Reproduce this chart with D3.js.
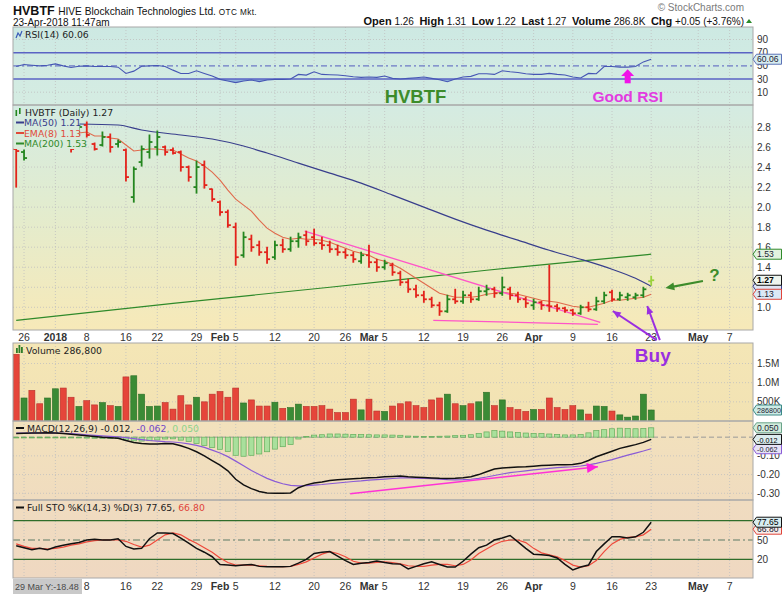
<!DOCTYPE html>
<html><head><meta charset="utf-8">
<script src="https://cdn.jsdelivr.net/npm/d3@7/dist/d3.min.js"></script>
<style>html,body{margin:0;padding:0;background:#fff;}svg{display:block;}</style>
</head><body>
<svg id="chart" width="782" height="594"></svg>
<script>
// ================= DATA =================
const tickDays = [1,5,9,14,18,23,26,28,33,38,42,45,47,52,57,62,66,71,76,81,87,91];
const tickText = ["26","2018","8","16","22","29","Feb","5","12","20","26","Mar","5","12","19","26","Apr","9","16","23","May","7"];

const priceOpen = [2.58,2.55,2.66,2.72,2.64,2.72,2.80,2.68,2.77,2.82,2.63,2.62,2.70,2.63,2.57,2.10,2.45,2.55,2.60,2.60,2.57,2.55,2.40,2.20,2.42,2.18,2.05,
1.95,1.80,1.52,1.68,1.62,1.55,1.50,1.62,1.58,1.66,1.72,1.70,1.64,1.62,1.58,1.55,1.52,1.46,1.52,1.45,1.40,1.42,1.34,1.25,1.18,1.12,1.08,1.02,0.96,1.08,1.06,1.12,1.08,1.16,1.18,1.14,1.18,1.12,1.08,1.02,1.05,1.02,1.01,0.99,0.97,0.94,1.00,0.98,1.06,1.15,1.08,1.10,1.10,1.12,1.26];
const priceHigh = [2.59,2.57,2.74,2.78,2.76,2.84,2.82,2.74,2.82,2.85,2.64,2.75,2.73,2.67,2.58,2.40,2.61,2.72,2.76,2.61,2.59,2.56,2.41,2.46,2.46,2.18,2.06,
1.97,1.84,1.75,1.72,1.66,1.60,1.66,1.68,1.70,1.74,1.76,1.78,1.70,1.66,1.62,1.58,1.55,1.55,1.62,1.48,1.47,1.44,1.36,1.28,1.22,1.16,1.10,1.05,1.12,1.18,1.16,1.15,1.20,1.22,1.20,1.30,1.20,1.15,1.10,1.08,1.06,1.42,1.03,1.00,0.98,1.02,1.05,1.10,1.15,1.17,1.15,1.14,1.14,1.20,1.31];
const priceLow = [2.20,2.47,2.62,2.59,2.62,2.66,2.64,2.55,2.72,2.70,2.57,2.61,2.55,2.60,2.26,2.05,2.41,2.49,2.52,2.52,2.53,2.36,2.26,2.14,2.19,2.06,1.92,
1.80,1.42,1.50,1.56,1.52,1.44,1.48,1.55,1.56,1.60,1.62,1.62,1.58,1.55,1.52,1.49,1.45,1.44,1.40,1.36,1.38,1.32,1.22,1.15,1.10,1.05,1.00,0.92,0.95,1.04,1.04,1.05,1.07,1.12,1.10,1.12,1.08,1.05,1.00,0.98,0.98,0.96,0.96,0.95,0.92,0.93,0.96,0.97,1.04,1.06,1.07,1.07,1.08,1.10,1.22];
const priceClose = [2.56,2.49,2.70,2.62,2.72,2.80,2.68,2.58,2.80,2.72,2.58,2.70,2.60,2.65,2.30,2.38,2.58,2.65,2.70,2.55,2.54,2.40,2.30,2.40,2.22,2.08,1.95,
1.82,1.50,1.70,1.60,1.55,1.48,1.62,1.58,1.66,1.70,1.66,1.64,1.62,1.58,1.55,1.52,1.48,1.52,1.45,1.40,1.44,1.35,1.25,1.18,1.12,1.08,1.02,0.96,1.08,1.06,1.12,1.08,1.16,1.18,1.14,1.20,1.12,1.08,1.04,1.05,1.02,1.01,0.99,0.97,0.94,1.00,0.98,1.06,1.12,1.08,1.12,1.12,1.12,1.18,1.27];
const upDay = [0,1,0,0,1,1,0,0,1,0, 0,1,0,1,0,1,1,1,1,0, 0,0,0,1,0,0,0,0,0,1, 0,0,0,1,0,1,1,0,0,0,
0,0,0,0,1,0,0,1,0,0, 0,0,0,0,0,1,0,1,0,1, 1,0,1,0,0,0,1,0,0,0, 0,0,1,0,1,1,0,1,1,1, 1,1];

const ema8 = [2.66,2.63,2.65,2.66,2.68,2.72,2.72,2.70,2.74,2.75,
2.71,2.71,2.69,2.68,2.62,2.56,2.57,2.58,2.58,2.57,
2.57,2.53,2.49,2.46,2.41,2.35,2.27,2.17,2.08,2.02,
1.96,1.87,1.79,1.74,1.70,1.68,1.69,1.68,1.68,1.67,
1.65,1.62,1.59,1.56,1.54,1.52,1.48,1.46,1.43,1.39,
1.34,1.29,1.24,1.19,1.14,1.12,1.10,1.10,1.10,1.11,
1.13,1.14,1.15,1.14,1.13,1.11,1.09,1.07,1.06,1.05,
1.03,1.01,1.00,1.00,1.02,1.04,1.07,1.07,1.08,1.09,
1.10,1.13];
const ma50Pts = [[8,2.83],[13,2.82],[16,2.77],[21,2.72],[25,2.68],[29,2.61],[32,2.54],[36,2.44],[40,2.34],[44,2.24],[48,2.12],[52,2.00],[56,1.88],[60,1.77],[64,1.67],[68,1.57],[72,1.48],[76,1.38],[79,1.29],[81,1.21]];
const ma200Pts = [[0,0.87],[20,1.04],[40,1.20],[60,1.37],[81,1.53]];

const volume = [1.74,0.60,0.80,0.45,0.60,0.84,0.86,0.62,0.38,0.53,
0.42,0.48,0.40,0.38,1.15,1.18,0.70,0.38,0.39,0.48,
0.31,0.66,0.42,0.62,0.50,0.70,0.77,0.62,0.86,0.47,
0.55,0.39,0.39,0.49,0.33,0.35,0.44,0.38,0.38,0.40,
0.31,0.22,0.22,0.57,0.29,0.57,0.26,0.25,0.39,0.45,
0.50,0.40,0.35,0.55,0.60,0.70,0.45,0.40,0.45,0.50,
0.75,0.40,0.55,0.35,0.30,0.25,0.30,0.30,0.60,0.35,
0.30,0.40,0.29,0.18,0.39,0.38,0.26,0.16,0.10,0.13,
0.70,0.2868];

const rsi = [49,52,51,50,51,53,50,47.5,49.5,50,
49,49,49,48,38.5,42,49.5,50,50.5,49,
43.5,38.5,38.5,42.5,38.5,34.5,29.5,27,24.5,27,
28.5,26,28.5,29.5,29.5,30,37,36,41,37,
36.5,36,35,33.5,32.5,33,32.5,34.5,31,30,
31,32,33,31,29,26,30,33,34,38,
38,37,42.5,41,40,38,37,37,38.5,37,
36,33,31.5,38.5,38,49,49,48,48,49,
56,60.06];

const macd = [0.020,0.021,0.022,0.022,0.023,0.022,0.020,0.016,0.012,0.008,
0.004,0.000,-0.003,-0.006,-0.018,-0.028,-0.034,-0.037,-0.036,-0.034,
-0.035,-0.046,-0.060,-0.078,-0.100,-0.125,-0.150,-0.180,-0.225,-0.255,
-0.275,-0.290,-0.298,-0.300,-0.300,-0.298,-0.270,-0.255,-0.245,-0.240,
-0.232,-0.228,-0.225,-0.222,-0.220,-0.217,-0.215,-0.212,-0.210,-0.208,
-0.212,-0.214,-0.216,-0.218,-0.220,-0.221,-0.220,-0.217,-0.212,-0.200,
-0.185,-0.170,-0.165,-0.162,-0.160,-0.158,-0.155,-0.152,-0.150,-0.148,
-0.148,-0.146,-0.140,-0.125,-0.105,-0.090,-0.075,-0.060,-0.050,-0.040,
-0.028,-0.012];
const macdSignal = [0.022,0.022,0.022,0.023,0.023,0.022,0.021,0.019,0.016,0.013,
0.010,0.007,0.004,0.001,-0.003,-0.008,-0.013,-0.018,-0.021,-0.024,
-0.026,-0.030,-0.036,-0.044,-0.055,-0.069,-0.085,-0.104,-0.128,-0.153,
-0.178,-0.200,-0.220,-0.236,-0.249,-0.258,-0.260,-0.259,-0.256,-0.253,
-0.249,-0.245,-0.241,-0.237,-0.234,-0.230,-0.227,-0.224,-0.221,-0.218,
-0.218,-0.219,-0.220,-0.222,-0.225,-0.227,-0.228,-0.227,-0.225,-0.220,
-0.213,-0.205,-0.197,-0.190,-0.185,-0.180,-0.175,-0.171,-0.167,-0.163,
-0.160,-0.158,-0.154,-0.148,-0.140,-0.130,-0.120,-0.108,-0.096,-0.085,
-0.074,-0.062];
const macdHist = [-0.002,-0.001,0.000,-0.001,0.000,0.000,-0.001,-0.003,-0.004,-0.005,
-0.006,-0.007,-0.007,-0.007,-0.015,-0.020,-0.021,-0.019,-0.015,-0.010,
-0.009,-0.016,-0.024,-0.034,-0.045,-0.056,-0.065,-0.076,-0.097,-0.102,
-0.097,-0.090,-0.078,-0.064,-0.051,-0.040,-0.010,0.004,0.011,0.013,
0.017,0.017,0.016,0.015,0.014,0.013,0.012,0.012,0.011,0.010,
0.006,0.005,0.004,0.004,0.005,0.006,0.008,0.010,0.013,0.020,
0.028,0.035,0.032,0.028,0.025,0.022,0.020,0.019,0.017,0.015,
0.012,0.012,0.014,0.023,0.035,0.040,0.045,0.048,0.046,0.045,
0.046,0.050];

const stoK = [41,38,35,37,35,39,42,44,46,50,
51,50,50,52,40,36,37,52,61,61,
60,53,45,37,31,24,12,11,10,11,
12,9,8.5,8.5,8.5,9,14,20,29,31,
32,25,18,12,14,15,17.5,15,13,12.5,
5,9,13,16,12,8,8,17,28,38,
42,50,53,57,47,37,28,27,26,22,
12,3.5,8,11,32,44,55,55,53,55,
62,77.65];
const stoD = [44,40,37,37,36,37,39,42,44,47,
49,50,50,50,48,43,39,42,50,58,
61,58,51,45,38,31,22,15,11,11,
11,10,9,8.5,8.5,9,12,16,22,28,
32,29,24,17,14,14,15,16,15,13,
10,9,9,11,12,12,10,12,19,29,
36,43,48,50,50,46,37,30,27,24,
18,11,8,10,18,32,44,51,54,55,
58,66.8];

const priceTicks = [1.0,1.2,1.4,1.6,1.8,2.0,2.2,2.4,2.6,2.8];
const priceTickShown = [1.0,1.4,1.6,1.8,2.0,2.2,2.4,2.6,2.8];
const rsiTicks = [10,30,50,70,90];
const volTicks = [0.5,1.0,1.5];
const volTickText = ["500K","1.0M","1.5M"];
const macdTicks = [-0.1,-0.2,-0.3];
const macdTickText = ["-0.10","-0.20","-0.30"];
const stoTicks = [20,50];

// annotations in data space [dayIndex, value]
const pinkTrend = [[[36.8,1.76],[74.5,0.85]],[[53.2,0.87],[74.2,0.83]]];
const macdArrow = [[42.6,-0.302],[74.2,-0.158]];
const rsiArrow = {day:78.0, base:23.5, neck:34.6, tip:44.8};
const greenArrow = [[87.6,1.263],[82.8,1.193]];
const buyArrows = [[[81.7,0.673],[76.1,0.963]],[[82.1,0.673],[80.5,1.013]]];

// ================= DRAW =================
const svg = d3.select('#chart');
const L = 13, R = 753;
const SANS = "'Liberation Sans', Arial, sans-serif";
const LEG = "'DejaVu Sans', Verdana, sans-serif";
const x = d3.scaleLinear().domain([0,81]).range([16.2,651.2]);
const P = {rsi:[27,105], price:[105,330], vol:[343,421], macd:[421,500], sto:[500,578]};

const rsiY = d3.scaleLinear().domain([10,90]).range([92.2,39.5]);
const priceY = d3.scaleLinear().domain([1.0,2.8]).range([307.3,127]);
const volY = d3.scaleLinear().domain([0,1.5]).range([421,363.5]);
const macdY = d3.scaleLinear().domain([-0.3,0.05]).range([493.3,427.8]);
const stoY = d3.scaleLinear().domain([20,80]).range([559.3,520.7]);

const RED = "#e3231b", GREEN = "#24861f", LAST = "#9bd23c";

const defs = svg.append('defs');
function grad(id, y1, y2, stops){
  const g = defs.append('linearGradient').attr('id',id).attr('gradientUnits','userSpaceOnUse')
    .attr('x1',0).attr('x2',0).attr('y1',y1).attr('y2',y2);
  stops.forEach(s=>g.append('stop').attr('offset',s[0]).attr('stop-color',s[1]));
}
grad('gRsi',P.rsi[0],P.rsi[1],[[0,'#cde9e3'],[1,'#d5ece2']]);
grad('gPrice',P.price[0],P.price[1],[[0,'#d4ebe2'],[0.45,'#e2eccf'],[1,'#f7e9b8']]);
grad('gVol',P.vol[0],P.vol[1],[[0,'#f4e6b6'],[1,'#f2e2b3']]);
grad('gMacd',P.macd[0],P.macd[1],[[0,'#f2e1bc'],[1,'#f0dcbf']]);
grad('gSto',P.sto[0],P.sto[1],[[0,'#f0dcc0'],[1,'#efd8c1']]);
const gradOf = {rsi:'gRsi',price:'gPrice',vol:'gVol',macd:'gMacd',sto:'gSto'};
Object.keys(P).forEach(k=>{
  defs.append('clipPath').attr('id','clip-'+k).append('rect')
    .attr('x',L).attr('y',P[k][0]).attr('width',R-L).attr('height',P[k][1]-P[k][0]);
});

svg.append('rect').attr('width',782).attr('height',594).attr('fill','#fff');

Object.keys(P).forEach(k=>{
  svg.append('rect').attr('x',L).attr('y',P[k][0]).attr('width',R-L).attr('height',P[k][1]-P[k][0])
    .attr('fill',`url(#${gradOf[k]})`);
});

Object.keys(P).forEach(k=>{
  svg.append('g').selectAll('line').data(tickDays).join('line')
    .attr('x1',d=>x(d)).attr('x2',d=>x(d)).attr('y1',P[k][0]).attr('y2',P[k][1])
    .attr('stroke','#bfbfbf').attr('stroke-width',0.8).attr('stroke-dasharray','1,2');
});
function hgrid(ticks, scale){
  svg.append('g').selectAll('line').data(ticks).join('line')
    .attr('x1',L).attr('x2',R).attr('y1',d=>scale(d)).attr('y2',d=>scale(d))
    .attr('stroke','#bfbfbf').attr('stroke-width',0.8).attr('stroke-dasharray','1,2');
}
hgrid(priceTicks, priceY);
hgrid([0.5,1.0,1.5], volY);
hgrid([-0.1,-0.2,-0.3], macdY);
hgrid([10,90], rsiY);

// ---------- RSI panel ----------
const gR = svg.append('g').attr('clip-path','url(#clip-rsi)');
gR.append('path').datum(rsi)
  .attr('d', d3.area().x((d,i)=>x(i)).y0(rsiY(30)).y1(d=>rsiY(Math.min(d,30))))
  .attr('fill','#7ea6d8').attr('opacity',0.8);
[70,30].forEach(v=>gR.append('line').attr('x1',L).attr('x2',R).attr('y1',rsiY(v)).attr('y2',rsiY(v))
  .attr('stroke','#5a63c4').attr('stroke-width',1.4));
gR.append('line').attr('x1',L).attr('x2',R).attr('y1',rsiY(50)).attr('y2',rsiY(50))
  .attr('stroke','#6d79c6').attr('stroke-width',1.2).attr('stroke-dasharray','6,3,2,3');
gR.append('path').datum(rsi).attr('d', d3.line().x((d,i)=>x(i)).y(d=>rsiY(d)))
  .attr('fill','none').attr('stroke','#4656b4').attr('stroke-width',1.1);

// ---------- Price panel ----------
const gP = svg.append('g').attr('clip-path','url(#clip-price)');
gP.append('path').datum(ma200Pts).attr('d', d3.line().x(d=>x(d[0])).y(d=>priceY(d[1])).curve(d3.curveMonotoneX))
  .attr('fill','none').attr('stroke','#2f8a2a').attr('stroke-width',1.2);
gP.append('path').datum(ma50Pts).attr('d', d3.line().x(d=>x(d[0])).y(d=>priceY(d[1])).curve(d3.curveMonotoneX))
  .attr('fill','none').attr('stroke','#383e8c').attr('stroke-width',1.2);
gP.append('path').datum(ema8).attr('d', d3.line().x((d,i)=>x(i)).y(d=>priceY(d)))
  .attr('fill','none').attr('stroke','#e06a4c').attr('stroke-width',1.1);
pinkTrend.forEach(seg=>{
  gP.append('line').attr('x1',x(seg[0][0])).attr('y1',priceY(seg[0][1])).attr('x2',x(seg[1][0])).attr('y2',priceY(seg[1][1]))
    .attr('stroke','#ff55c8').attr('stroke-width',1.3);
});
const barColor = i => i===81 ? LAST : (upDay[i] ? GREEN : RED);
const bars = gP.append('g').selectAll('g').data(priceClose).join('g').attr('stroke',(d,i)=>barColor(i)).attr('stroke-width',1.8);
bars.append('line').attr('x1',(d,i)=>x(i)).attr('x2',(d,i)=>x(i))
  .attr('y1',(d,i)=>priceY(priceHigh[i])-0.5).attr('y2',(d,i)=>priceY(priceLow[i])+0.5);
bars.append('line').attr('x1',(d,i)=>x(i)-3).attr('x2',(d,i)=>x(i))
  .attr('y1',(d,i)=>priceY(priceOpen[i])).attr('y2',(d,i)=>priceY(priceOpen[i]));
bars.append('line').attr('x1',(d,i)=>x(i)).attr('x2',(d,i)=>x(i)+3)
  .attr('y1',d=>priceY(d)).attr('y2',d=>priceY(d));

// ---------- Volume ----------
const gV = svg.append('g').attr('clip-path','url(#clip-vol)');
gV.selectAll('rect').data(volume).join('rect')
  .attr('x',(d,i)=>x(i)-3).attr('width',6)
  .attr('y',d=>volY(d)).attr('height',d=>volY(0)-volY(d))
  .attr('fill',(d,i)=> (upDay[i]? '#3b8b35':'#e5453a'))
  .attr('stroke',(d,i)=> (upDay[i]? '#2a6e26':'#b8302a')).attr('stroke-width',0.6);

// ---------- MACD ----------
const gM = svg.append('g').attr('clip-path','url(#clip-macd)');
gM.append('line').attr('x1',L).attr('x2',R).attr('y1',macdY(0)).attr('y2',macdY(0))
  .attr('stroke','#9a9a9a').attr('stroke-width',1).attr('stroke-dasharray','5,3');
gM.selectAll('rect').data(macdHist).join('rect')
  .attr('x',(d,i)=>x(i)-2.6).attr('width',5.2)
  .attr('y',d=>Math.min(macdY(d),macdY(0))).attr('height',d=>Math.max(0.8,Math.abs(macdY(d)-macdY(0))))
  .attr('fill','#a9e09c').attr('stroke','#64ad5c').attr('stroke-width',0.7);
gM.append('path').datum(macdSignal).attr('d', d3.line().x((d,i)=>x(i)).y(d=>macdY(d)))
  .attr('fill','none').attr('stroke','#8a5bd6').attr('stroke-width',1.2);
gM.append('path').datum(macd).attr('d', d3.line().x((d,i)=>x(i)).y(d=>macdY(d)))
  .attr('fill','none').attr('stroke','#111').attr('stroke-width',1.5);

// ---------- STO ----------
const gS = svg.append('g').attr('clip-path','url(#clip-sto)');
[80,20].forEach(v=>gS.append('line').attr('x1',L).attr('x2',R).attr('y1',stoY(v)).attr('y2',stoY(v))
  .attr('stroke','#2f6d2a').attr('stroke-width',1.2));
gS.append('line').attr('x1',L).attr('x2',R).attr('y1',stoY(50)).attr('y2',stoY(50))
  .attr('stroke','#8d9a84').attr('stroke-width',1.4).attr('stroke-dasharray','7,3,2,3');
gS.append('path').datum(stoD).attr('d', d3.line().x((d,i)=>x(i)).y(d=>stoY(d)))
  .attr('fill','none').attr('stroke','#ee4a3c').attr('stroke-width',1.2);
gS.append('path').datum(stoK).attr('d', d3.line().x((d,i)=>x(i)).y(d=>stoY(d)))
  .attr('fill','none').attr('stroke','#111').attr('stroke-width',1.5);

Object.keys(P).forEach(k=>{
  svg.append('rect').attr('x',L).attr('y',P[k][0]).attr('width',R-L).attr('height',P[k][1]-P[k][0])
    .attr('fill','none').attr('stroke','#a8a8a8').attr('stroke-width',1);
});

// ---------- date axes ----------
function dateAxis(yBase, minX){
  const idx = tickDays.map((d,i)=>i).filter(i=>x(tickDays[i])>minX);
  svg.append('g').selectAll('text').data(idx).join('text')
    .attr('x',i=>x(tickDays[i])).attr('y',yBase).attr('text-anchor','middle')
    .attr('font-family',SANS).attr('font-size',10.5)
    .attr('font-weight',i=>/^\d{1,2}$/.test(tickText[i])?'normal':'bold')
    .attr('fill','#333').text(i=>tickText[i]);
}
dateAxis(340.5, 0);
dateAxis(589.5, 80);
svg.append('rect').attr('x',L).attr('y',579).attr('width',69).attr('height',15).attr('fill','#c9c9c9');
svg.append('text').attr('x',L+2).attr('y',590).attr('font-family',SANS).attr('font-size',9).attr('fill','#4a4a4a').text('29 Mar Y:-18.48');

// ---------- right axis labels ----------
function rAxis(ticks, scale, fmt){
  svg.append('g').selectAll('text').data(ticks).join('text')
    .attr('x',757).attr('y',d=>scale(d)+3.5).attr('font-family',SANS).attr('font-size',10)
    .attr('fill','#333').text((d,i)=>fmt(d,i));
}
rAxis(rsiTicks, rsiY, d=>d);
rAxis(priceTickShown, priceY, d=>d.toFixed(1));
rAxis(volTicks, volY, (d,i)=>volTickText[i]);
rAxis(macdTicks, macdY, (d,i)=>macdTickText[i]);
rAxis(stoTicks, stoY, d=>d);

function tag(y, text, stroke, fill, color, bold){
  const g = svg.append('g');
  g.append('path').attr('d',`M${R},${y} L${R+3.5},${y-5} L${781.5},${y-5} L${781.5},${y+5} L${R+3.5},${y+5} Z`)
    .attr('fill',fill).attr('stroke',stroke).attr('stroke-width',1);
  if(text){
    g.append('text').attr('x',R+4).attr('y',y+3.1).attr('font-family',SANS)
      .attr('font-size', text.length>5 ? 7.2 : 8.6)
      .attr('font-weight',bold?'bold':'normal').attr('fill',color).text(text);
  }
}
tag(rsiY(60.06),'60.06','#5d73b8','#d8edf0','#223',false);
tag(priceY(1.53),'1.53','#2f8a2a','#e2f2e0','#223',false);
tag(priceY(1.21),'','#383e8c','#dfe6f5','#223',false);
tag(priceY(1.13),'1.13','#e0443a','#dbe8f6','#223',false);
tag(priceY(1.27),'1.27','#111','#eef5ee','#000',true);
tag(volY(0.2868),'286800','#3e8a86','#cdebe6','#223',false);
tag(macdY(0.05),'0.050','#6aa38a','#d2ecdc','#223',false);
tag(macdY(-0.062),'-0.062','#8a5bd6','#e6e2f5','#223',false);
tag(macdY(-0.012),'-0.012','#111','#dcecef','#000',false);
tag(stoY(66.8),'66.80','#e0443a','#f7ecea','#223',false);
tag(stoY(77.65),'77.65','#111','#d8edf0','#000',false);

// ---------- legends ----------
function legendBox(xr, y0, y1, k){
  svg.append('rect').attr('x',L+0.5).attr('y',y0).attr('width',xr-L).attr('height',y1-y0).attr('fill',`url(#${gradOf[k]})`);
}
function legText(xp, yb, parts){
  const t = svg.append('text').attr('x',xp).attr('y',yb).attr('font-family',LEG).attr('font-size',9.3);
  parts.forEach(p=>t.append('tspan').attr('fill',p[1]).text(p[0]));
}
svg.append('path').attr('d','M16,38 L18,33 L20,36 L22,31').attr('fill','none').attr('stroke','#3a5ab8').attr('stroke-width',1.2);
legText(25,37.5,[['RSI(14) 60.06','#222']]);
legendBox(126,106,118,'price');
legendBox(79,118,149,'price');
svg.append('rect').attr('x',15.5).attr('y',110).attr('width',1.6).attr('height',6).attr('fill',GREEN);
svg.append('rect').attr('x',19).attr('y',108).attr('width',1.6).attr('height',6).attr('fill',GREEN);
legText(25,115.5,[['HVBTF (Daily) 1.27','#222']]);
[['MA(50) 1.21','#383e8c',126],['EMA(8) 1.13','#e04a3a',136.5],['MA(200) 1.53','#2f8a2a',147]].forEach(r=>{
  svg.append('line').attr('x1',16).attr('x2',24).attr('y1',r[2]-3.5).attr('y2',r[2]-3.5).attr('stroke',r[1]).attr('stroke-width',2);
  legText(24,r[2],[[r[0],r[1]]]);
});
[[16,5],[18.5,8],[21,6]].forEach(b=>svg.append('rect').attr('x',b[0]).attr('y',353-b[1]).attr('width',1.8).attr('height',b[1]).attr('fill','#2e7d28'));
legText(26,353.5,[['Volume 286,800','#222']]);
svg.append('line').attr('x1',16).attr('x2',24).attr('y1',428).attr('y2',428).attr('stroke','#111').attr('stroke-width',2);
legText(27,431.5,[['MACD(12,26,9) -0.012, ','#222'],['-0.062','#7048c8'],[', 0.050','#8fd38a']]);
svg.append('line').attr('x1',16).attr('x2',24).attr('y1',507.5).attr('y2',507.5).attr('stroke','#111').attr('stroke-width',2);
legText(27,511,[['Full STO %K(14,3) %D(3) 77.65, ','#222'],['66.80','#e0443a']]);

// ---------- header ----------
const head = svg.append('text').attr('x',13).attr('y',15).attr('font-family',SANS).attr('fill','#111');
head.append('tspan').attr('font-size',12.5).attr('font-weight','bold').text('HVBTF ');
head.append('tspan').attr('font-size',10.2).text('HIVE Blockchain Technologies Ltd. ');
head.append('tspan').attr('font-size',8.2).attr('letter-spacing',0.4).text('OTC Mkt.');
svg.append('text').attr('x',13).attr('y',26).attr('font-family',SANS).attr('font-size',10).attr('fill','#111').text('23-Apr-2018 11:47am');
svg.append('text').attr('x',744).attr('y',11).attr('text-anchor','end').attr('font-family',SANS).attr('font-size',10).attr('fill','#7a7a7a').text('\u00A9 StockCharts.com');
const quote = svg.append('text').attr('x',744).attr('y',25).attr('text-anchor','end').attr('font-family',SANS).attr('fill','#111');
[['Open',1],[' 1.26  ',0],['High',1],[' 1.31  ',0],['Low',1],[' 1.22  ',0],['Last',1],[' 1.27  ',0],['Volume',1],[' 286.8K  ',0],['Chg',1],[' +0.05 (+3.76%)',0]]
  .forEach(p=>quote.append('tspan').attr('font-size',p[1]?11:10).attr('font-weight',p[1]?'bold':'normal').attr('xml:space','preserve').text(p[0]));
svg.append('path').attr('d','M746,23 L749,19 L752,23 Z').attr('fill','#2a8a2a');

// ---------- annotations ----------
function arrowHead(x1,y1,x2,y2,len,wid,col){
  const a = Math.atan2(y2-y1,x2-x1);
  const bx = x2-len*Math.cos(a), by = y2-len*Math.sin(a);
  const nx = -Math.sin(a)*wid/2, ny = Math.cos(a)*wid/2;
  svg.append('path').attr('d',`M${x2},${y2} L${bx+nx},${by+ny} L${bx-nx},${by-ny} Z`).attr('fill',col);
}
svg.append('text').attr('x',x(47)).attr('y',rsiY(-6)).attr('font-family',SANS).attr('font-weight','bold')
  .attr('font-size',18.5).attr('fill','#3d8c2b').text('HVBTF');
svg.append('text').attr('x',x(78)).attr('y',rsiY(-5)).attr('text-anchor','middle').attr('font-family',SANS).attr('font-weight','bold')
  .attr('font-size',15.5).attr('fill','#e23be0').text('Good RSI');
{
  const ax = x(rsiArrow.day);
  svg.append('rect').attr('x',ax-3).attr('y',rsiY(rsiArrow.neck)).attr('width',6).attr('height',rsiY(rsiArrow.base)-rsiY(rsiArrow.neck)).attr('fill','#f014e8');
  svg.append('path').attr('d',`M${ax},${rsiY(rsiArrow.tip)} L${ax+6.5},${rsiY(rsiArrow.neck)} L${ax-6.5},${rsiY(rsiArrow.neck)} Z`).attr('fill','#f014e8');
}
{
  const [a,b] = greenArrow;
  svg.append('line').attr('x1',x(a[0])).attr('y1',priceY(a[1])).attr('x2',x(b[0])+4).attr('y2',priceY(b[1])-0.6)
    .attr('stroke','#3d8c2b').attr('stroke-width',2.2);
  arrowHead(x(a[0]),priceY(a[1]),x(b[0]),priceY(b[1]),9,8,'#3d8c2b');
  svg.append('text').attr('x',x(88.4)).attr('y',priceY(1.262)).attr('font-family',SANS).attr('font-weight','bold')
    .attr('font-size',17).attr('fill','#3d8c2b').text('?');
}
buyArrows.forEach(([a,b])=>{
  svg.append('line').attr('x1',x(a[0])).attr('y1',priceY(a[1])).attr('x2',x(b[0])).attr('y2',priceY(b[1]))
    .attr('stroke','#9a2fe0').attr('stroke-width',2);
  arrowHead(x(a[0]),priceY(a[1]),x(b[0]),priceY(b[1]),8,7,'#9a2fe0');
});
svg.append('text').attr('x',x(81.2)).attr('y',priceY(0.456)).attr('text-anchor','middle').attr('font-family',SANS).attr('font-weight','bold')
  .attr('font-size',19).attr('fill','#9a2fe0').text('Buy');
{
  const [a,b] = macdArrow;
  svg.append('line').attr('x1',x(a[0])).attr('y1',macdY(a[1])).attr('x2',x(b[0])).attr('y2',macdY(b[1]))
    .attr('stroke','#ff33d6').attr('stroke-width',1.6);
  arrowHead(x(a[0]),macdY(a[1]),x(b[0]),macdY(b[1]),11,10,'#ff22dd');
}
</script></body></html>
